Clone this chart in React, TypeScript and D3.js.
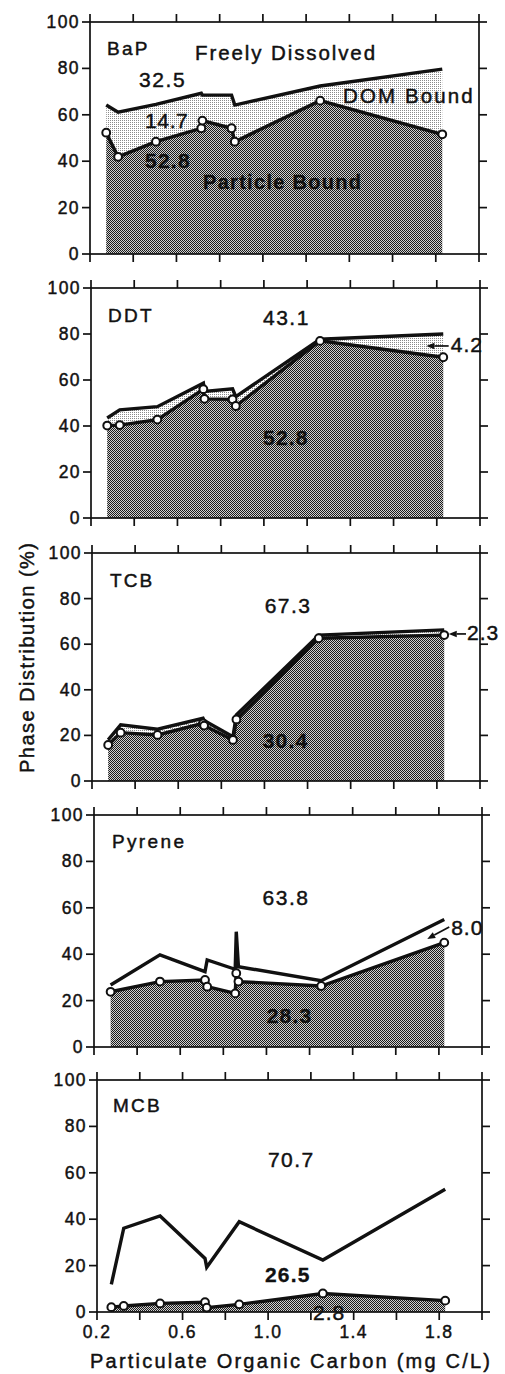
import React, { useEffect, useRef } from 'react';
import * as d3 from 'd3';

const W = 505;
const H = 1374;
const FONT = '"Liberation Sans", Arial, Helvetica, sans-serif';

// POC (mg C/L) of each sample, particle-bound %, and particle + DOM-bound % (upper curve)
const bapPoc = [0.275, 0.33, 0.505, 0.715, 0.72, 0.855, 0.87, 1.265, 1.83];
const bapParticle = [52.3, 41.9, 48.4, 54.2, 57.5, 54.2, 48.4, 66.1, 51.6];
const bapBound = [64.2, 61.1, 64.5, 69.3, 68.5, 68.5, 64.2, 72.4, 79.7];

const ddtPoc = [0.275, 0.333, 0.507, 0.72, 0.725, 0.855, 0.87, 1.26, 1.83];
const ddtParticle = [40.2, 40.4, 42.8, 56.0, 51.8, 51.6, 48.7, 77.0, 69.9];
const ddtBound = [43.5, 47.0, 48.4, 58.6, 55.0, 56.2, 52.8, 77.7, 80.0];

const tcbPoc = [0.275, 0.333, 0.504, 0.715, 0.72, 0.854, 0.87, 1.252, 1.834];
const tcbParticle = [15.8, 21.2, 20.2, 25.3, 24.3, 18.0, 27.0, 62.6, 64.0];
const tcbBound = [18.0, 24.6, 22.7, 27.5, 26.5, 19.4, 29.0, 64.0, 66.3];

const pyrenePoc = [0.277, 0.506, 0.715, 0.725, 0.855, 0.86, 0.87, 1.254, 1.825];
const pyreneParticle = [23.8, 28.2, 28.9, 26.0, 23.1, 31.8, 28.2, 26.3, 45.0];
const pyreneBound = [26.7, 39.7, 32.5, 37.5, 33.5, 49.7, 34.6, 28.6, 55.0];

const mcbPoc = [0.267, 0.325, 0.495, 0.705, 0.713, 0.865, 1.256, 1.828];
const mcbParticle = [2.1, 2.6, 3.7, 4.2, 1.9, 3.3, 8.0, 4.9];
const mcbBound = [11.9, 36.1, 41.4, 23.1, 19.3, 38.9, 22.4, 52.9];

// mean phase distributions written on each panel
const meanFree = ['32.5', '43.1', '67.3', '63.8', '70.7'];
const meanDom = ['14.7', '4.2', '2.3', '8.0', '26.5'];
const meanParticle = ['52.8', '52.8', '30.4', '28.3', '2.8'];

const yTicks = [0, 20, 40, 60, 80, 100];
const xTicks = [0.2, 0.4, 0.6, 0.8, 1.0, 1.2, 1.4, 1.6, 1.8, 2.0];
const xTickLabels = [0.2, 0.6, 1.0, 1.4, 1.8];

type Lbl = { t: string; x: number; y: number; size: number; ls: number; bold?: boolean };

const panels = [
  {
    name: 'BaP', poc: bapPoc, particle: bapParticle, bound: bapBound, domFill: true,
    top: 22, bottom: 254, left: 90, right: 479,
    labels: [
      { t: 'BaP', x: 0.279, y: 85.8, size: 19, ls: 2.2 },
      { t: 'Freely Dissolved', x: 0.686, y: 83.6, size: 20.5, ls: 1.9 },
      { t: meanFree[0], x: 0.427, y: 72, size: 21, ls: 1.6 },
      { t: meanDom[0], x: 0.455, y: 54.3, size: 21, ls: 0.6 },
      { t: meanParticle[0], x: 0.455, y: 37.1, size: 21, ls: 1.2, bold: true },
      { t: 'Particle Bound', x: 0.723, y: 28, size: 20, ls: 1.3, bold: true },
      { t: 'DOM Bound', x: 1.371, y: 65.1, size: 20.5, ls: 2.1 },
    ] as Lbl[],
    arrow: null as null | number[],
  },
  {
    name: 'DDT', poc: ddtPoc, particle: ddtParticle, bound: ddtBound, domFill: true,
    top: 288, bottom: 518, left: 91, right: 480,
    labels: [
      { t: 'DDT', x: 0.279, y: 85.2, size: 19, ls: 2.2 },
      { t: meanFree[1], x: 0.996, y: 83.9, size: 21, ls: 1.5 },
      { t: meanParticle[1], x: 0.996, y: 31.7, size: 21, ls: 1.2, bold: true },
      { t: meanDom[1], x: 1.865, y: 72.2, size: 21, ls: 1 },
    ] as Lbl[],
    arrow: [1.855, 74.8, 1.752, 74.8],
  },
  {
    name: 'TCB', poc: tcbPoc, particle: tcbParticle, bound: tcbBound, domFill: true,
    top: 553, bottom: 781, left: 92, right: 480,
    labels: [
      { t: 'TCB', x: 0.283, y: 85.1, size: 19, ls: 2.2 },
      { t: meanFree[2], x: 1.001, y: 73.7, size: 21, ls: 1.5 },
      { t: meanParticle[2], x: 0.992, y: 14.5, size: 21, ls: 1.2, bold: true },
      { t: meanDom[2], x: 1.94, y: 62.0, size: 21, ls: 1 },
    ] as Lbl[],
    arrow: [1.935, 64.5, 1.855, 64.5],
  },
  {
    name: 'Pyrene', poc: pyrenePoc, particle: pyreneParticle, bound: pyreneBound, domFill: false,
    top: 815, bottom: 1047, left: 94, right: 482,
    labels: [
      { t: 'Pyrene', x: 0.283, y: 85.8, size: 19, ls: 2.4 },
      { t: meanFree[3], x: 0.982, y: 61.2, size: 21, ls: 1.5 },
      { t: meanParticle[3], x: 1.001, y: 10.3, size: 21, ls: 1.2, bold: true },
      { t: meanDom[3], x: 1.857, y: 48.3, size: 21, ls: 1 },
    ] as Lbl[],
    arrow: [1.848, 51.7, 1.746, 46.6],
  },
  {
    name: 'MCB', poc: mcbPoc, particle: mcbParticle, bound: mcbBound, domFill: false,
    top: 1080, bottom: 1312, left: 97, right: 482,
    labels: [
      { t: 'MCB', x: 0.275, y: 86.2, size: 19, ls: 2.2 },
      { t: meanFree[4], x: 0.999, y: 62.5, size: 21, ls: 1.5 },
      { t: meanDom[4], x: 0.985, y: 12.9, size: 21, ls: 1.2, bold: true },
      { t: meanParticle[4], x: 1.21, y: -3.4, size: 21, ls: 1 },
    ] as Lbl[],
    arrow: null as null | number[],
  },
];

const App = () => {
  const svgRef = useRef<SVGSVGElement>(null);

  useEffect(() => {
    const svg = d3.select(svgRef.current);
    svg.selectAll('*').remove();

    // stipple patterns
    const defs = svg.append('defs');
    const dark = defs.append('pattern').attr('id', 'dark')
      .attr('width', 2).attr('height', 2).attr('patternUnits', 'userSpaceOnUse');
    dark.append('rect').attr('width', 2).attr('height', 2).attr('fill', '#d0d0d0');
    dark.append('rect').attr('width', 1).attr('height', 1).attr('fill', '#1a1a1a');
    dark.append('rect').attr('x', 1).attr('y', 1).attr('width', 1).attr('height', 1).attr('fill', '#1a1a1a');
    const light = defs.append('pattern').attr('id', 'light')
      .attr('width', 2).attr('height', 2).attr('patternUnits', 'userSpaceOnUse');
    light.append('rect').attr('width', 2).attr('height', 2).attr('fill', '#fff');
    light.append('rect').attr('width', 1).attr('height', 1).attr('fill', '#8a8a8a');

    svg.append('rect').attr('width', W).attr('height', H).attr('fill', '#fff');

    panels.forEach((p, pi) => {
      const x = d3.scaleLinear().domain([0.2, 2.0]).range([p.left, p.right]);
      const y = d3.scaleLinear().domain([0, 100]).range([p.bottom, p.top]);
      const g = svg.append('g');
      const idx = d3.range(p.poc.length);

      const particleArea = d3.area<number>()
        .x((i) => x(p.poc[i])).y0(y(0)).y1((i) => y(p.particle[i]));
      const domArea = d3.area<number>()
        .x((i) => x(p.poc[i])).y0((i) => y(p.particle[i])).y1((i) => y(p.bound[i]));

      if (p.domFill) {
        g.append('path').datum(idx).attr('d', domArea).attr('fill', 'url(#light)');
      }
      g.append('path').datum(idx).attr('d', particleArea).attr('fill', 'url(#dark)');

      // frame
      g.append('rect')
        .attr('x', p.left).attr('y', p.top)
        .attr('width', p.right - p.left).attr('height', p.bottom - p.top)
        .attr('fill', 'none').attr('stroke', '#111').attr('stroke-width', 1.7);

      // ticks
      yTicks.forEach((t) => {
        g.append('line').attr('x1', p.left - 8).attr('x2', p.left)
          .attr('y1', y(t)).attr('y2', y(t)).attr('stroke', '#111').attr('stroke-width', 1.7);
        g.append('line').attr('x1', p.right).attr('x2', p.right + 8)
          .attr('y1', y(t)).attr('y2', y(t)).attr('stroke', '#111').attr('stroke-width', 1.7);
        g.append('text').attr('x', p.left - 10).attr('y', y(t))
          .attr('text-anchor', 'end').attr('dominant-baseline', 'central')
          .attr('font-family', FONT).attr('font-size', 17.5).attr('letter-spacing', 1.4)
          .attr('fill', '#111').attr('stroke', '#111').attr('stroke-width', 0.45)
          .text(t);
      });
      xTicks.forEach((t) => {
        g.append('line').attr('x1', x(t)).attr('x2', x(t))
          .attr('y1', p.top - 8).attr('y2', p.top).attr('stroke', '#111').attr('stroke-width', 1.7);
        g.append('line').attr('x1', x(t)).attr('x2', x(t))
          .attr('y1', p.bottom).attr('y2', p.bottom + 8).attr('stroke', '#111').attr('stroke-width', 1.7);
      });

      // curves
      const upper = d3.line<number>().x((i) => x(p.poc[i])).y((i) => y(p.bound[i]));
      const lower = d3.line<number>().x((i) => x(p.poc[i])).y((i) => y(p.particle[i]));
      g.append('path').datum(idx).attr('d', upper)
        .attr('fill', 'none').attr('stroke', '#111').attr('stroke-width', 3.4)
        .attr('stroke-linejoin', 'miter');
      g.append('path').datum(idx).attr('d', lower)
        .attr('fill', 'none').attr('stroke', '#111').attr('stroke-width', 3.4)
        .attr('stroke-linejoin', 'miter');
      g.selectAll('circle.pt').data(idx).join('circle')
        .attr('cx', (i) => x(p.poc[i])).attr('cy', (i) => y(p.particle[i]))
        .attr('r', 3.9).attr('fill', '#fff').attr('stroke', '#111').attr('stroke-width', 2);

      // annotations
      p.labels.forEach((l) => {
        g.append('text').attr('x', x(l.x)).attr('y', y(l.y))
          .attr('font-family', FONT).attr('font-size', l.size)
          .attr('font-weight', l.bold ? 'bold' : 'normal')
          .attr('letter-spacing', l.ls).attr('fill', '#111')
          .attr('stroke', '#111').attr('stroke-width', l.bold ? 0.3 : 0.45)
          .text(l.t);
      });
      if (p.arrow) {
        const [x1, y1, x2, y2] = p.arrow;
        const ax = x(x2), ay = y(y2), bx = x(x1), by = y(y1);
        const ang = Math.atan2(by - ay, bx - ax);
        const len = 8, half = 3.2;
        const cx = ax + len * Math.cos(ang), cy = ay + len * Math.sin(ang);
        g.append('line').attr('x1', bx).attr('y1', by).attr('x2', cx).attr('y2', cy)
          .attr('stroke', '#111').attr('stroke-width', 1.7);
        g.append('path')
          .attr('d', `M${ax},${ay}L${cx - half * Math.sin(ang)},${cy + half * Math.cos(ang)}L${cx + half * Math.sin(ang)},${cy - half * Math.cos(ang)}Z`)
          .attr('fill', '#111');
      }

      if (pi === panels.length - 1) {
        xTickLabels.forEach((t) => {
          g.append('text').attr('x', x(t)).attr('y', p.bottom + 26)
            .attr('text-anchor', 'middle')
            .attr('font-family', FONT).attr('font-size', 17.5).attr('letter-spacing', 1.4)
            .attr('fill', '#111').attr('stroke', '#111').attr('stroke-width', 0.45)
            .text(t.toFixed(1));
        });
      }
    });

    svg.append('text').attr('x', 90).attr('y', 1368)
      .attr('font-family', FONT).attr('font-size', 20)
      .attr('textLength', 400).attr('lengthAdjust', 'spacing')
      .attr('fill', '#111').attr('stroke', '#111').attr('stroke-width', 0.45)
      .text('Particulate Organic Carbon (mg C/L)');

    svg.append('text').attr('transform', 'translate(34,773) rotate(-90)')
      .attr('x', 0).attr('y', 0)
      .attr('font-family', FONT).attr('font-size', 20)
      .attr('textLength', 230).attr('lengthAdjust', 'spacing')
      .attr('fill', '#111').attr('stroke', '#111').attr('stroke-width', 0.45)
      .text('Phase Distribution (%)');
  }, []);

  return (
    <svg ref={svgRef} width={W} height={H}
      style={{ position: 'absolute', left: 0, top: 0, display: 'block' }} />
  );
};

export default App;
